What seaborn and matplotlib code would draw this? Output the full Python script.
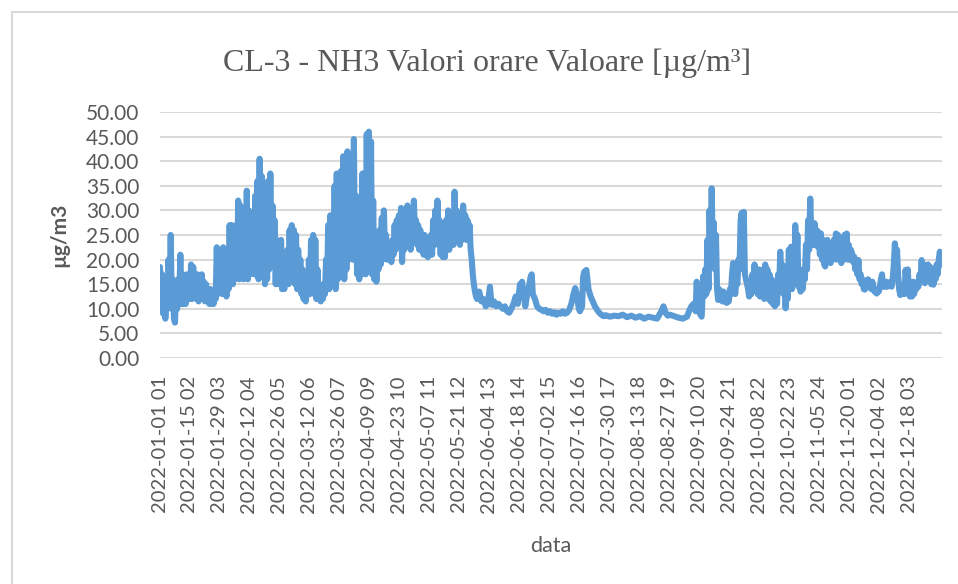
import matplotlib
matplotlib.use("Agg")
import matplotlib.pyplot as plt
import matplotlib.patches as patches
import pandas as pd
import seaborn as sns

# (day of year, NH3 hourly value)
winter_points = [
    (0, 18.5), (0.5, 11), (1, 17), (1.5, 9), (2, 15), (2.5, 8), (3, 13), (3.5, 10), (4, 20), (4.5, 12),
    (5, 25), (5.5, 10), (6, 16), (6.5, 8), (7, 7.2), (7.5, 14), (8, 10), (8.5, 16), (9, 12), (9.5, 21),
    (10, 11), (10.5, 17), (11, 11), (11.5, 15), (12, 11), (12.5, 17), (13, 12), (13.5, 16), (14, 12), (14.5, 19),
    (15, 12), (15.5, 18.5), (16, 13), (16.5, 17), (17, 12), (17.5, 17), (18, 11.5), (18.5, 16), (19, 12), (19.5, 17),
    (20, 12), (20.5, 15.5), (21, 11.5), (21.5, 15), (22, 12), (22.5, 14), (23, 11), (23.5, 14), (24, 11), (24.5, 13),
    (25, 11), (25.5, 14), (26, 12), (26.5, 22.5), (27, 13), (27.5, 22), (28, 14), (28.5, 22), (29, 13), (29.5, 22.5),
    (30, 13), (30.5, 21), (31, 12.5), (31.5, 22), (32, 14), (32.5, 27), (33, 15), (33.5, 27), (34, 15), (34.5, 26),
    (35, 16), (35.5, 27), (36, 17), (36.5, 32), (37, 16), (37.5, 31), (38, 17), (38.5, 29), (39, 16), (39.5, 25),
    (40, 17), (40.5, 34), (41, 16), (41.5, 30), (42, 17), (42.5, 28), (43, 18), (43.5, 25), (44, 17), (44.5, 33),
    (45, 20), (45.5, 36), (46, 16), (46.5, 40.5), (47, 18), (47.5, 37), (48, 22), (48.5, 32), (49, 15), (49.5, 25),
    (50, 16), (50.5, 36), (51, 18), (51.5, 37.5), (52, 20), (52.5, 31), (53, 22), (53.5, 28), (54, 15), (54.5, 24),
    (55, 15), (55.5, 22), (56, 15), (56.5, 24), (57, 14), (57.5, 20), (58, 14), (58.5, 18), (59, 15), (59.5, 22),
    (60, 15), (60.5, 26), (61, 16), (61.5, 27), (62, 18), (62.5, 26), (63, 15), (63.5, 25), (64, 14), (64.5, 22),
    (65, 15), (65.5, 20), (66, 13), (66.5, 18), (67, 12), (67.5, 15), (68, 11.5), (68.5, 13), (69, 13), (69.5, 20),
    (70, 13), (70.5, 24), (71, 14), (71.5, 25), (72, 13), (72.5, 24), (73, 12), (73.5, 18), (74, 12), (74.5, 15),
    (75, 11.5), (75.5, 14), (76, 12), (76.5, 15), (77, 13), (77.5, 20), (78, 14), (78.5, 27), (79, 14), (79.5, 29),
    (80, 15), (80.5, 26), (81, 16), (81.5, 35), (82, 14), (82.5, 37.5), (83, 16), (83.5, 30), (84, 17), (84.5, 38),
    (85, 18), (85.5, 41), (86, 16), (86.5, 35), (87, 18), (87.5, 42), (88, 20), (88.5, 36), (89, 22), (89.5, 40),
]

spring_points = [
    (90, 20), (90.5, 44.5), (91, 20), (91.5, 33), (92, 17), (92.5, 24), (93, 16), (93.5, 22), (94, 17), (94.5, 37.5),
    (95, 18), (95.5, 30), (96, 17), (96.5, 45.5), (97, 18), (97.5, 46), (98, 20), (98.5, 44), (99, 17), (99.5, 32),
    (100, 16), (100.5, 22), (101, 15.5), (101.5, 20), (102, 18), (102.5, 26), (103, 19), (103.5, 28.5), (104, 20), (104.5, 30),
    (105, 22), (105.5, 25), (106, 20), (106.5, 22), (107, 20), (107.5, 21), (108, 19.5), (108.5, 24), (109, 21), (109.5, 27),
    (110, 22), (110.5, 28), (111, 23), (111.5, 29), (112, 24), (112.5, 30.5), (113, 19.5), (113.5, 27), (114, 22), (114.5, 30),
    (115, 23), (115.5, 31), (116, 24), (116.5, 29), (117, 22), (117.5, 28), (118, 24), (118.5, 32), (119, 25), (119.5, 28),
    (120, 23), (120.5, 27), (121, 22), (121.5, 26), (122, 22), (122.5, 25), (123, 21), (123.5, 25), (124, 21), (124.5, 24),
    (125, 20.5), (125.5, 23), (126, 21), (126.5, 25), (127, 21), (127.5, 28), (128, 23), (128.5, 30), (129, 24), (129.5, 32),
    (130, 23), (130.5, 28), (131, 21), (131.5, 27), (132, 20.5), (132.5, 24), (133, 20.5), (133.5, 28), (134, 24), (134.5, 30),
    (135, 22), (135.5, 27), (136, 23), (136.5, 28), (137, 23), (137.5, 33.8), (138, 24), (138.5, 30), (139, 24), (139.5, 29),
    (140, 23), (140.5, 27), (141, 24), (141.5, 31), (142, 25), (142.5, 29), (143, 24), (143.5, 28), (144, 25), (144.5, 27),
    (145, 22), (145.5, 20), (146, 17), (146.5, 15), (147, 13.5), (147.5, 12.5), (148, 12), (149, 13.5), (150, 11.5), (151, 12),
    (152, 10.5), (153, 11), (154, 14.5), (154.5, 12), (155, 10.8), (156, 11.5), (157, 10.5), (158, 11), (159, 10.5), (160, 10),
    (161, 10.5), (162, 9.5), (163, 9.2), (164, 10), (165, 11), (166, 12.5), (167, 11), (168, 15), (168.5, 13), (169, 15.5),
    (170, 12), (170.5, 10.5), (171, 12), (172, 14), (173, 16.5), (173.5, 17), (174, 13), (175, 12), (176, 10.5), (177, 10),
]

summer_points = [
    (178, 9.8), (179, 9.5), (180, 9.8), (181, 9.2), (182, 9.5), (183, 9), (184, 9.3), (185, 8.8), (186, 9.2), (187, 9),
    (188, 9.5), (189, 9), (190, 9.2), (191, 9.8), (192, 11), (193, 13), (193.8, 14.2), (194.5, 13), (195, 11.5), (195.5, 10),
    (196, 9.5), (197, 10.5), (197.5, 16.5), (198, 17.5), (199, 17.9), (199.5, 16), (200, 14), (201, 12.5), (202, 11.5), (203, 10.5),
    (204, 9.8), (205, 9.2), (206, 8.8), (207, 8.5), (208, 8.7), (210, 8.4), (212, 8.6), (214, 8.5), (216, 8.8), (218, 8.3),
    (220, 8.6), (222, 8.2), (224, 8.5), (226, 8.0), (228, 8.4), (230, 8.2), (232, 8.0), (234, 9.5), (235, 10.5), (236, 9.2),
    (237, 8.6), (238, 8.8), (240, 8.5), (242, 8.2), (244, 8.0), (246, 8.4), (247, 9.6), (248, 10.5), (249, 11), (250, 9.5),
    (250.5, 15.5), (251, 12), (252, 9), (252.8, 8.4), (253, 10), (253.5, 16.6), (254, 12.5), (254.5, 18), (255, 13), (255.5, 24),
    (256, 14), (256.5, 30), (257, 20), (257.5, 34.5), (258, 22), (258.5, 27.5), (259, 18), (259.5, 25), (260, 14), (260.5, 11.8),
    (261, 14), (261.5, 12), (262, 13.5), (262.5, 11.5), (263, 13.5), (263.5, 11.5), (264, 13), (264.5, 11.2), (265, 13), (265.5, 11.5),
    (266, 14), (266.5, 13), (267, 17), (267.5, 19.3), (268, 14), (268.5, 13), (269, 16), (269.5, 15), (270, 20), (270.5, 18),
]

autumn_points = [
    (271, 28), (271.5, 29.5), (272, 20), (272.5, 29.7), (273, 17), (273.5, 16), (274, 15), (274.5, 14), (275, 12.5), (275.5, 15),
    (276, 13), (276.5, 17), (277, 14), (277.5, 19), (278, 14), (278.5, 18), (279, 13), (279.5, 18), (280, 12.5), (280.5, 17.5),
    (281, 13), (281.5, 18), (282, 12), (282.5, 19), (283, 13), (283.5, 18), (284, 12), (284.5, 17), (285, 11.5), (285.5, 16),
    (286, 11), (286.5, 15), (287, 10.5), (287.5, 14), (288, 11), (288.5, 17), (289, 14), (289.5, 21.6), (290, 16), (290.5, 19),
    (291, 13), (291.5, 17), (292, 10.1), (292.5, 18), (293, 12), (293.5, 22), (294, 14), (294.5, 22.6), (295, 14), (295.5, 20),
    (296, 15), (296.5, 27), (297, 18), (297.5, 25), (298, 14.5), (298.5, 18), (299, 13.5), (299.5, 15), (300, 14), (300.5, 18),
    (301, 16), (301.5, 23), (302, 18), (302.5, 28), (303, 22), (303.5, 32.4), (304, 25), (304.5, 27), (305, 23), (305.5, 27.4),
    (306, 23), (306.5, 26), (307, 22.6), (307.5, 25.5), (308, 21), (308.5, 25.3), (309, 20), (309.5, 24), (310, 19), (310.5, 18.6),
    (311, 21), (311.5, 24), (312, 20), (312.5, 22), (313, 19.3), (313.5, 22), (314, 20), (314.5, 24), (315, 21), (315.5, 25.3),
    (316, 20), (316.5, 25), (317, 20), (317.5, 22), (318, 19.3), (318.5, 21), (319, 20), (319.5, 25), (320, 21), (320.5, 25.3),
    (321, 20), (321.5, 23), (322, 20), (322.5, 22), (323, 21.3), (323.5, 19.5), (324, 20.6), (324.5, 18), (325, 20), (325.5, 17),
    (326, 19.9), (326.5, 16), (327, 17), (327.5, 15), (328, 16), (328.5, 14), (329, 13.9), (329.5, 15.5), (330, 14.5), (330.5, 16),
    (331, 15), (331.5, 15.5), (332, 14), (332.5, 15.5), (333, 14), (333.5, 13.5), (334, 13.5), (334.5, 13.1), (335, 14), (335.5, 13.5),
    (336, 14.5), (336.5, 16), (337, 17), (337.5, 14.5), (338, 15), (338.5, 14.5), (339, 15.5), (339.5, 14.5), (340, 15), (340.5, 15),
    (341, 15.5), (341.5, 14.5), (342, 16), (342.5, 19), (343, 23.3), (343.5, 20), (344, 22), (344.5, 17), (345, 14), (345.5, 12.8),
    (346, 14.5), (346.5, 13), (347, 15), (347.5, 13), (348, 17.9), (348.5, 15), (349, 18), (349.5, 14), (350, 12.5), (350.5, 14.5),
    (351, 12.5), (351.5, 15.5), (352, 13), (352.5, 15), (353, 14), (353.5, 15.5), (354, 14.5), (354.5, 17), (355, 16), (355.5, 19.9),
    (356, 16), (356.5, 19), (357, 15.2), (357.5, 18), (358, 16), (358.5, 19), (359, 17.5), (359.5, 18.5), (360, 15), (360.5, 18),
    (361, 14.9), (361.5, 18), (362, 16), (362.5, 19), (363, 17), (363.5, 20), (364, 21.6), (364.5, 19),
]

tick_days = [0, 14, 28, 42, 56, 70, 84, 98, 112, 126, 140, 154, 168, 182, 196, 210, 224, 238, 252, 266,
             280, 294, 308, 322, 336, 350]
tick_labels = [
    "2022-01-01 01", "2022-01-15 02", "2022-01-29 03", "2022-02-12 04", "2022-02-26 05", "2022-03-12 06",
    "2022-03-26 07", "2022-04-09 09", "2022-04-23 10", "2022-05-07 11", "2022-05-21 12", "2022-06-04 13",
    "2022-06-18 14", "2022-07-02 15", "2022-07-16 16", "2022-07-30 17", "2022-08-13 18", "2022-08-27 19",
    "2022-09-10 20", "2022-09-24 21", "2022-10-08 22", "2022-10-22 23", "2022-11-05 24", "2022-11-20 01",
    "2022-12-04 02", "2022-12-18 03",
]
y_ticks = [0, 5, 10, 15, 20, 25, 30, 35, 40, 45, 50]

points = winter_points + spring_points + summer_points + autumn_points
df = pd.DataFrame(points, columns=["day", "nh3"])

sns.set_theme(style="white")
text_color = "#595959"
grid_color = "#D9D9D9"

fig = plt.figure(figsize=(9.58, 5.84), dpi=100)
ax = fig.add_axes([160 / 958, 1 - 358 / 584, (942 - 160) / 958, (358 - 112) / 584])

sns.lineplot(data=df, x="day", y="nh3", ax=ax, color="#5B9BD5", linewidth=4.4,
             solid_joinstyle="round", solid_capstyle="round", sort=False)

ax.set_xlim(0, 365)
ax.set_ylim(0, 50)
ax.set_yticks(y_ticks)
ax.set_yticklabels([f"{v:.2f}" for v in y_ticks], fontfamily="Lato", fontsize=15, color=text_color)
ax.set_xticks(tick_days)
ax.set_xticklabels(tick_labels, rotation=90, fontfamily="Lato", fontsize=14.5, color=text_color)
ax.tick_params(axis="both", length=0)
ax.tick_params(axis="y", pad=15)
ax.tick_params(axis="x", pad=13)

for v in y_ticks:
    ax.axhline(v, color=grid_color, linewidth=1.5, zorder=0)
for side in ["top", "right", "left", "bottom"]:
    ax.spines[side].set_visible(False)

ax.set_ylabel("µg/m3", fontfamily="Lato", fontsize=15, fontweight="bold", color=text_color, labelpad=12)
ax.set_xlabel("data", fontfamily="Lato", fontsize=15.5, color=text_color, labelpad=16)

fig.text(487 / 958, 1 - 63 / 584, "CL-3 - NH3 Valori orare Valoare [µg/m³]", ha="center", va="center",
         fontfamily="Liberation Serif", fontsize=23, color=text_color)

fig.patches.append(patches.Rectangle((12 / 958, -0.1), 1.1, 1 - 12 / 584 + 0.1, transform=fig.transFigure,
                                     fill=False, edgecolor=grid_color, linewidth=1.5))

fig.savefig("out.png", dpi=100)
